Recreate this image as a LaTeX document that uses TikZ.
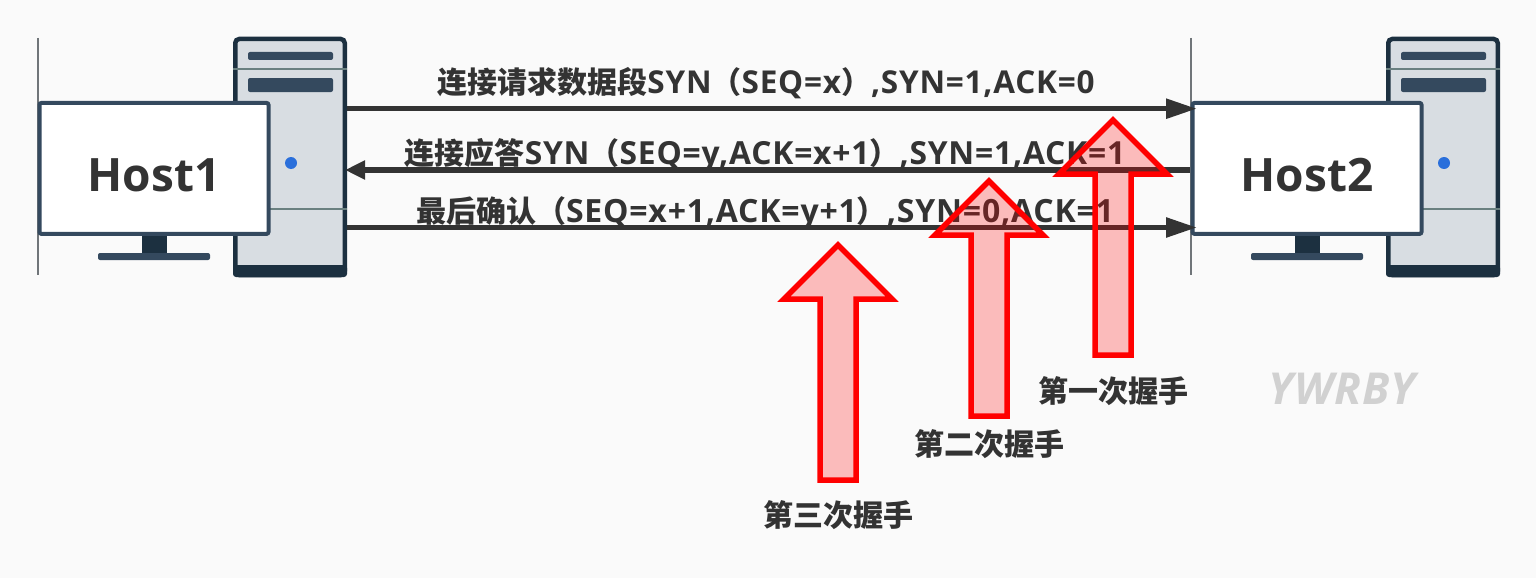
\documentclass[tikz,border=0pt]{standalone}
\usepackage{fontspec}
\setmainfont{Open Sans}[LetterSpace=2.5]
\newfontfamily\hostfont{Open Sans}
\newfontfamily\cjk{Noto Sans CJK SC}
\newcommand{\zh}[1]{{\cjk\fontsize{30}{30}\selectfont #1}}
\usetikzlibrary{calc,arrows.meta,positioning}
\definecolor{inkgray}{HTML}{333333}
\definecolor{slateblue}{HTML}{34495E}
\definecolor{towerdark}{HTML}{1C3040}
\definecolor{towerlight}{HTML}{D8DDE2}
\definecolor{seamgray}{HTML}{6A8080}
\definecolor{ledblue}{HTML}{2A6FDB}
\tikzset{
  msglabel/.style={font=\bfseries\fontsize{#1}{#1}\selectfont,text=inkgray,inner sep=0pt,anchor=base},
  msgline/.style={line width=5.5pt,draw=inkgray},
  msgforward/.style={msgline,-{Triangle[length=31pt,width=19pt]}},
  msgback/.style={msgline,shorten >=-2pt,-{Triangle[length=20pt,width=18pt]}},
  stepname/.style={font=\bfseries,text=inkgray,inner sep=0pt},
  hostpc/.pic={
    \draw[gray!80!slateblue,line width=1.2pt] (38,38)--(38,275);
    \node[draw=towerdark,fill=towerlight,line width=4.5pt,rounded corners=4pt,minimum width=109.5pt,minimum height=236pt,inner sep=0pt] (-tower) at (290,157) {};
    \fill[towerdark,rounded corners=3pt] (233,265) rectangle (347,277);
    \fill[slateblue,rounded corners=2pt] (248,52) rectangle (333,60);
    \fill[slateblue,rounded corners=2pt] (248,78) rectangle (333,92);
    \draw[seamgray,line width=1.5pt] (233,69)--(347,69);
    \draw[seamgray,line width=1.5pt] (233,209)--(347,209);
    \fill[ledblue] (291,163) circle (6pt);
    \fill[towerdark] (142,236) rectangle (167,254);
    \fill[slateblue,rounded corners=2pt] (98,253) rectangle (210,260);
    \node[draw=slateblue,fill=white,line width=4pt,rounded corners=2pt,minimum width=229pt,minimum height=131pt,inner sep=0pt,text=inkgray,text height=47pt,text depth=0pt,font=\hostfont\bfseries\fontsize{46}{46}\selectfont] (-monitor) at (154,168.4) {#1};
  },
  shakearrow/.pic={
    \draw[red,fill=red,fill opacity=0.25,line width=5.5pt,miter limit=10]
      (0,0)--(54,54)--(18,54)--(18,235)--(-18,235)--(-18,54)--(-54,54)--cycle;
  }
}

\begin{document}
\begin{tikzpicture}[x=1pt,y=-1pt,>=Stealth]
  \useasboundingbox (0,0) rectangle (1536,578);
  \fill[black!2] (0,0) rectangle (1536,578);

  \pic (h1) at (0,0) {hostpc=Host1};
  \pic (h2) at (1153,0) {hostpc=Host2};

  \coordinate (in1) at (1197,108.7);
  \coordinate (out2) at (1190,170);
  \coordinate (in3) at (1197,227.5);

  \draw[msgforward] (h1-tower.east |- in1) -- (in1);
  \draw[msgback] (out2) -- (h1-tower.east |- out2);
  \draw[msgforward] (h1-tower.east |- in3) -- (in3);

  \node[msglabel=31.5] (req) at (766,93.5) {\zh{连接请求数据段}SYN\zh{（}SEQ=x\zh{）},SYN=1,ACK=0};
  \node[msglabel=31.8] (ans) at (765,164) {\zh{连接应答}SYN\zh{（}SEQ=y,ACK=x+1\zh{）},SYN=1,ACK=1};
  \node[msglabel=32] (fin) at (765,222) {\zh{最后确认（}SEQ=x+1,ACK=y+1\zh{）},SYN=0,ACK=1};

  \pic at (1113,120) {shakearrow};
  \pic at (989,181) {shakearrow};
  \pic at (838,245) {shakearrow};

  \node[stepname] (one) at (1113,391) {\zh{第一次握手}};
  \node[stepname] (two) at (989,444) {\zh{第二次握手}};
  \node[stepname] (three) at (838,515) {\zh{第三次握手}};

  \node[font=\bfseries\itshape\fontsize{44}{44}\selectfont,text=black!18,inner sep=0pt] (mark) at (1342,389) {YWRBY};
\end{tikzpicture}
\end{document}
